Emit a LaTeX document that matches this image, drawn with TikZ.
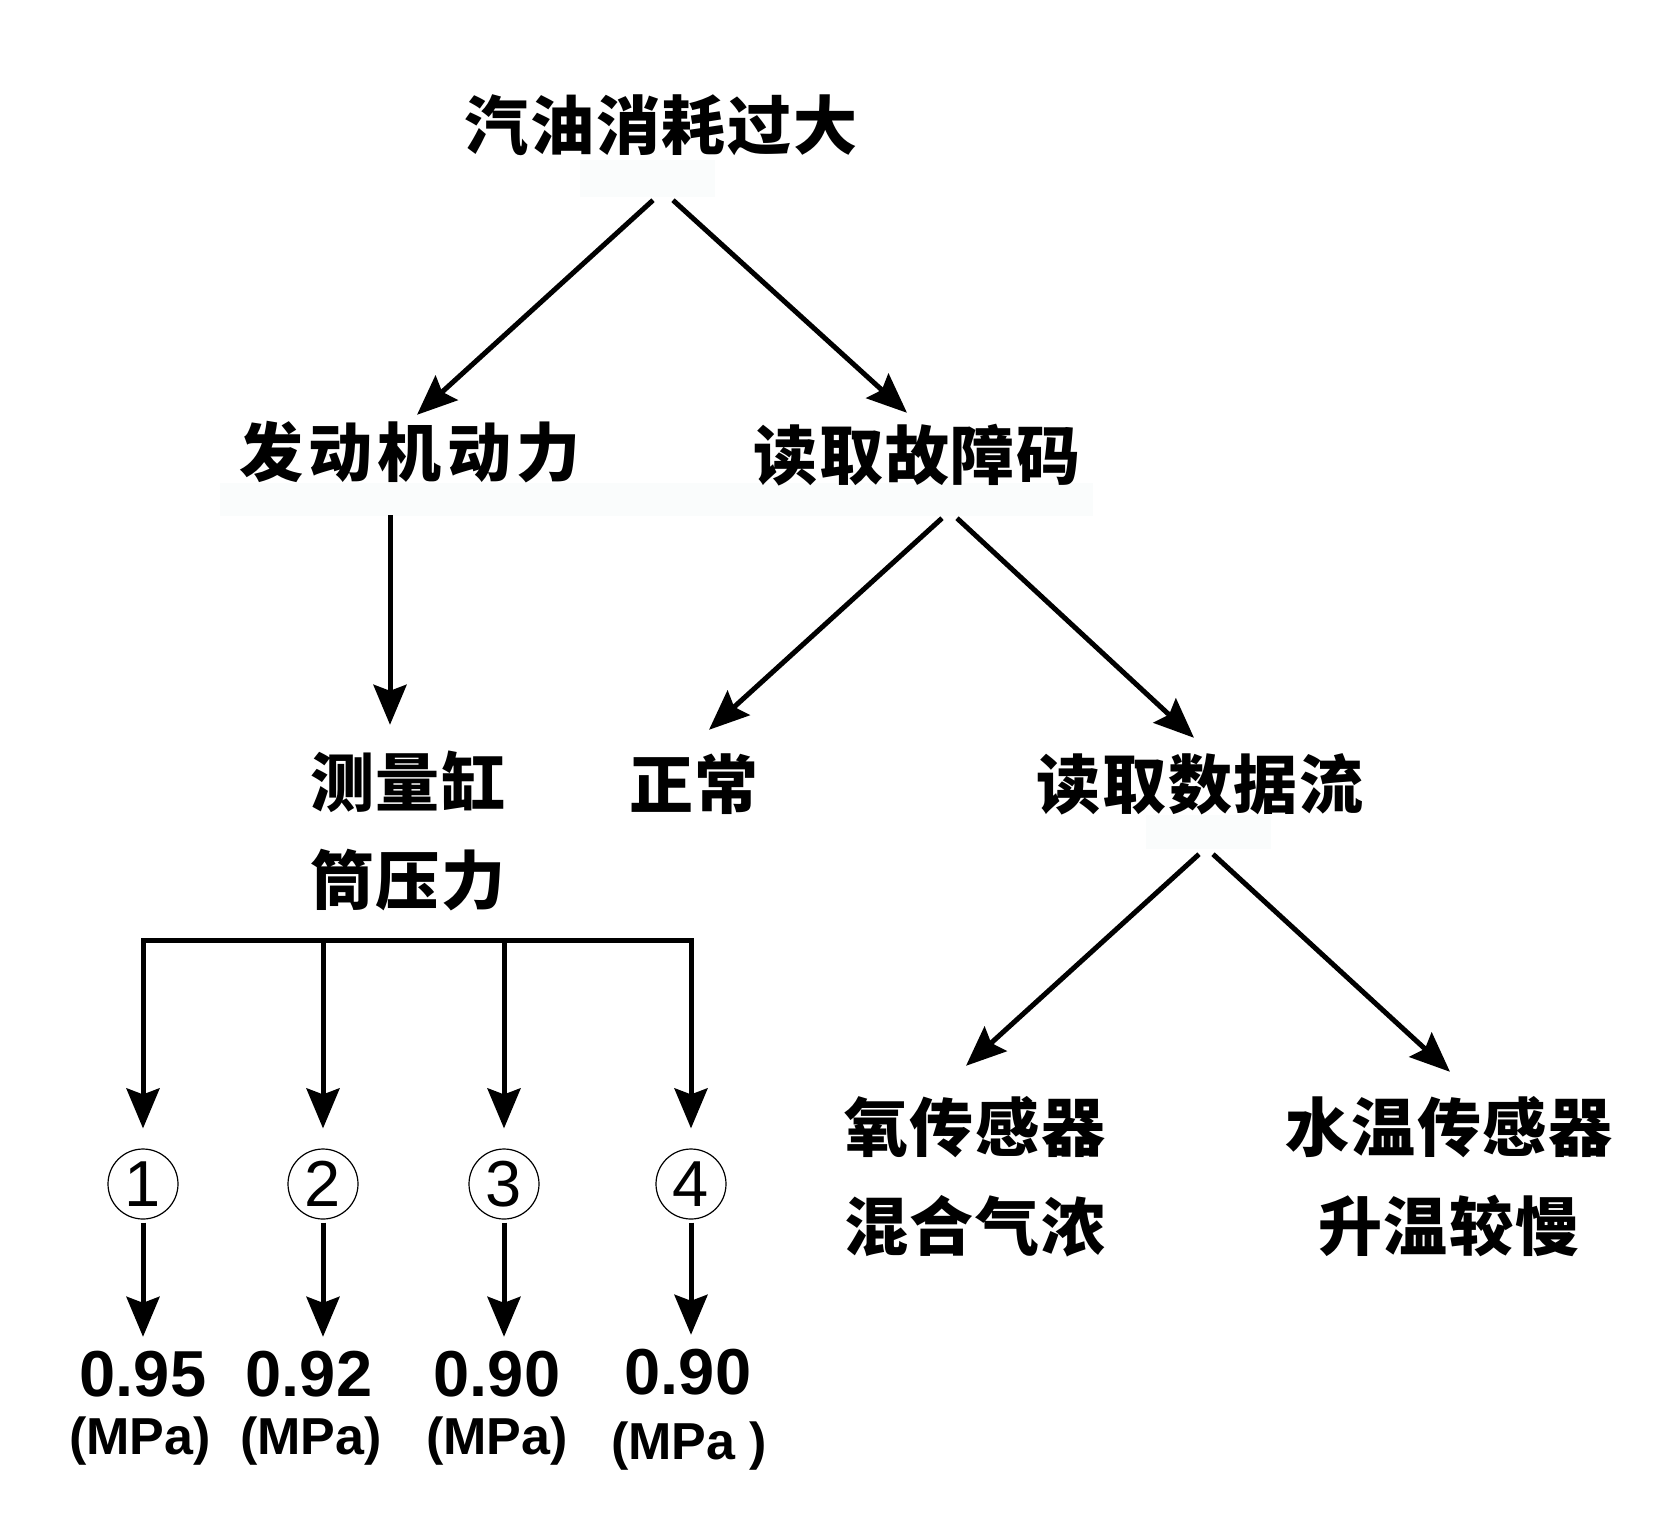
\documentclass[tikz,border=0pt]{standalone}
\usepackage{fontspec}
\usepackage{tikz}
\usetikzlibrary{arrows.meta,positioning}
\usepackage{xcolor}
\newfontfamily\cjk{Noto Sans CJK SC}[LetterSpace=3]
\newfontfamily\lib{Liberation Sans}
\definecolor{haze}{RGB}{250,252,252}

\begin{document}
\begin{tikzpicture}[
      x=1pt, y=-1pt,
      word/.style={inner sep=0pt, text height=52pt, text depth=6pt,
                   font=\cjk\bfseries\fontsize{64}{64}\selectfont},
      wide/.style={word, font=\cjk\bfseries\fontsize{64}{64}\selectfont\addfontfeatures{LetterSpace=8}},
      num/.style={draw, circle, line width=1.2pt, minimum size=70pt, inner sep=0pt,
                  font=\lib\fontsize{65}{65}\selectfont},
      val/.style={inner sep=0pt, font=\lib\bfseries\fontsize{65}{65}\selectfont},
      unit/.style={inner sep=0pt, font=\lib\bfseries\fontsize{52}{52}\selectfont},
      arrow/.style={-{Stealth[length=40pt, width=33pt, inset=6pt]}, line width=5pt},
      rail/.style={line width=5pt, line cap=rect},
    ]
    \useasboundingbox (0,0) rectangle (1664,1526);

    % faint patches
    \fill[haze] (580,160) rectangle (715,197);
    \fill[haze] (220,483) rectangle (1093,516);
    \fill[haze] (1146,815) rectangle (1271,849);

    % ---- top levels ----
    \node[word] (top) at (661,126) {汽油消耗过大};
    \node[wide] (eng) at (410,453) {发动机动力};
    \node[word] (code) at (917,456) {读取故障码};

    \draw[arrow] ([xshift=-8pt,yshift=-45pt]top.south) -- ([xshift=7pt,yshift=9pt]eng.north);
    \draw[arrow] ([xshift=12pt,yshift=-45pt]top.south) -- ([xshift=-10pt,yshift=14pt]code.north);

    % ---- middle ----
    \node[word] (cyl) at (408,783) {测量缸};
    \node[word, below=40pt of cyl] (cylb) {筒压力};
    \node[word] (ok) at (694,785) {正常};
    \node[word] (flow) at (1200,785) {读取数据流};

    \draw[arrow] ([xshift=-20pt,yshift=-33pt]eng.south) -- ([xshift=-18pt,yshift=29pt]cyl.north);
    \draw[arrow] ([xshift=25pt,yshift=-33pt]code.south) -- ([xshift=15pt,yshift=26pt]ok.north);
    \draw[arrow] ([xshift=40pt,yshift=-33pt]code.south) -- ([xshift=-6pt,yshift=18pt]flow.north);

    % ---- sensors ----
    \node[word] (oxy) at (975,1128) {氧传感器};
    \node[word, below=41pt of oxy] (oxyb) {混合气浓};
    \node[word] (water) at (1449,1128) {水温传感器};
    \node[word, below=41pt of water] (waterb) {升温较慢};

    \draw[arrow] ([xshift=-1pt,yshift=-40pt]flow.south) -- ([xshift=-9pt,yshift=33pt]oxy.north);
    \draw[arrow] ([xshift=13pt,yshift=-40pt]flow.south) -- ([xshift=1pt,yshift=27pt]water.north);

    % ---- cylinders ----
    \coordinate (fork) at (412,940);
    \node[num] (c1) at (143,1184) {1};
    \node[num] (c2) at (323,1184) {2};
    \node[num] (c3) at (504,1184) {3};
    \node[num] (c4) at (691,1184) {4};

    \draw[rail] (c1 |- fork) -- (c4 |- fork);
    \draw[arrow, shorten >=20pt] (c1 |- fork) -- (c1.north);
    \draw[arrow, shorten >=20pt] (c2 |- fork) -- (c2.north);
    \draw[arrow, shorten >=20pt] (c3 |- fork) -- (c3.north);
    \draw[arrow, shorten >=20pt] (c4 |- fork) -- (c4.north);

    % pressure values
    \node[val] (v1) at (143,1374) {0.95};
    \node[val] (v2) at (309,1374) {0.92};
    \node[val] (v3) at (497,1374) {0.90};
    \node[val] (v4) at (688,1372) {0.90};
    \node[unit] (u1) at (140,1441) {(MPa)};
    \node[unit] (u2) at (311,1441) {(MPa)};
    \node[unit] (u3) at (497,1441) {(MPa)};
    \node[unit] (u4) at (689,1446) {(MPa )};

    \draw[arrow, shorten >=14pt] ([yshift=-3pt]c1.south) -- (c1.south |- v1.north);
    \draw[arrow, shorten >=14pt] ([yshift=-3pt]c2.south) -- (c2.south |- v2.north);
    \draw[arrow, shorten >=14pt] ([yshift=-3pt]c3.south) -- (c3.south |- v3.north);
    \draw[arrow, shorten >=14pt] ([yshift=-3pt]c4.south) -- (c4.south |- v4.north);
  \end{tikzpicture}
\end{document}
